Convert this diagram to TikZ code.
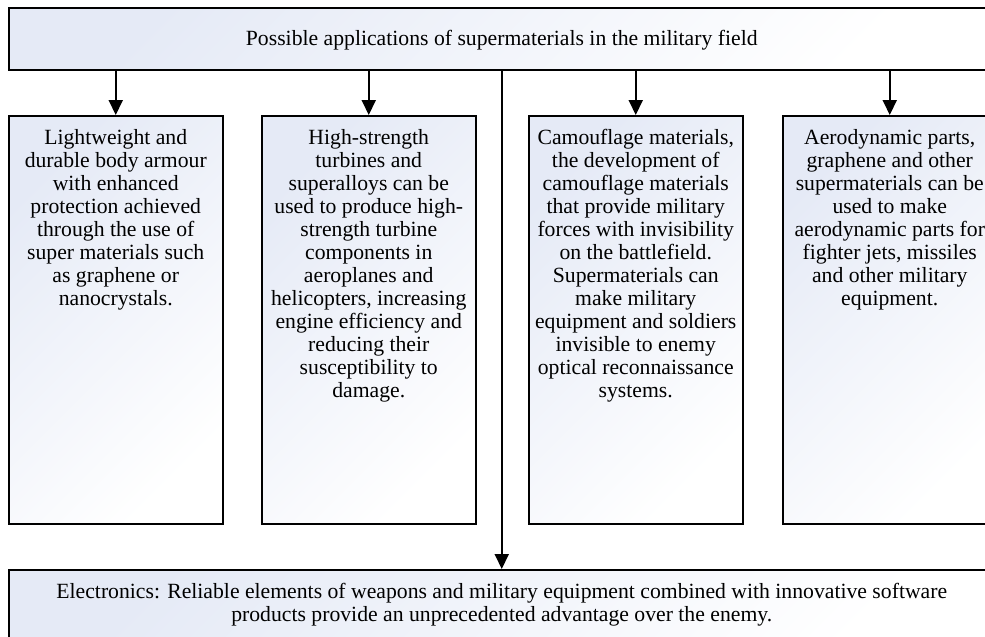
\documentclass[tikz,border=0pt]{standalone}
\usepackage{fontspec}
\setmainfont{Liberation Serif}
\usetikzlibrary{arrows.meta}
\definecolor{boxtint}{RGB}{229,234,246}
\begin{document}
\begin{tikzpicture}[x=1pt,y=1pt,
  panel/.style={draw=black, line width=1.5pt, top color=boxtint, bottom color=white,
    shading angle=45, inner sep=0pt, anchor=north west},
  caption/.style={align=center, inner sep=0pt, anchor=north,
    font=\fontsize{21.7}{23}\selectfont},
  link/.style={line width=2pt, -{Triangle[width=14pt,length=15pt]}}]
\useasboundingbox (0,0) rectangle (985,-637);

% heading and footer panels
\node[panel, minimum width=986pt, minimum height=62pt] (head) at (8,-7) {};
\node[caption, anchor=center] (headtext) at ([yshift=-1pt]head.center)
  {Possible applications of supermaterials in the military field};

\node[panel, minimum width=986pt, minimum height=80pt] (foot) at (8,-569) {};
\node[caption] (foottext) at ([yshift=-14pt]foot.north)
  {Electronics: Reliable elements of weapons and military equipment combined with innovative software\\
   products provide an unprecedented advantage over the enemy.};

% four application panels
\node[panel, minimum width=214pt, minimum height=408pt] (armour) at (8,-115) {};
\node[panel, minimum width=214pt, minimum height=408pt] (turbine) at (261,-115) {};
\node[panel, minimum width=214pt, minimum height=408pt] (camo) at (528,-115) {};
\node[panel, minimum width=214pt, minimum height=408pt] (aero) at (782,-115) {};

\node[caption] (armourtext) at ([yshift=-14pt]armour.north)
  {Lightweight and\\ durable body armour\\ with enhanced\\ protection achieved\\
   through the use of\\ super materials such\\ as graphene or\\ nanocrystals.};
\node[caption] (turbinetext) at ([yshift=-14pt]turbine.north)
  {High-strength\\ turbines and\\ superalloys can be\\ used to produce high-\\
   strength turbine\\ components in\\ aeroplanes and\\ helicopters, increasing\\
   engine efficiency and\\ reducing their\\ susceptibility to\\ damage.};
\node[caption] (camotext) at ([yshift=-14pt]camo.north)
  {Camouflage materials,\\ the development of\\ camouflage materials\\
   that provide military\\ forces with invisibility\\ on the battlefield.\\
   Supermaterials can\\ make military\\ equipment and soldiers\\
   invisible to enemy\\ optical reconnaissance\\ systems.};
\node[caption] (aerotext) at ([yshift=-14pt]aero.north)
  {Aerodynamic parts,\\ graphene and other\\ supermaterials can be\\ used to make\\
   aerodynamic parts for\\ fighter jets, missiles\\ and other military\\ equipment.};

% connectors
\foreach \target in {armour, turbine, camo, aero}
  \draw[link] (head.south -| \target.north) -- (\target.north);
\draw[link] (head.south) -- (foot.north);
\end{tikzpicture}
\end{document}
